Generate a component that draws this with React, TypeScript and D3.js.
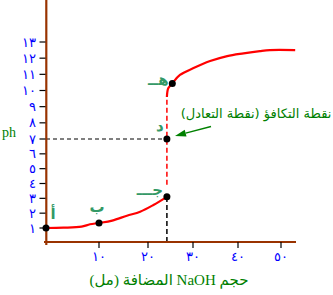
import React from "react";
import * as d3 from "d3";

const xTicks = [10, 20, 30, 40, 50];
const xTickLabels = ["١٠", "٢٠", "٣٠", "٤٠", "٥٠"];
const yTicks = [1, 2, 3, 4, 5, 6, 7, 8, 9, 10, 11, 12, 13];
const yTickLabels = ["١", "٢", "٣", "٤", "٥", "٦", "٧", "٨", "٩", "١٠", "١١", "١٢", "١٣"];

const lowerVolume = [0, 3.3, 6.7, 8.3, 10, 12.7, 15.7, 18.4, 21.2, 24.2];
const lowerPH = [1, 1.02, 1.09, 1.25, 1.34, 1.5, 1.83, 2.1, 2.55, 3.1];
const upperVolume = [24.2, 24.5, 25.4, 27.1, 30, 33.8, 37.6, 41.3, 45.1, 47.4, 53.3];
const upperPH = [9.6, 10.14, 10.44, 10.96, 11.37, 11.82, 12.13, 12.3, 12.44, 12.5, 12.5];

const pointNames = ["أ", "ب", "جـــ", "د", "هــ"];
const pointVolume = [0, 10, 24.2, 24.2, 25.4];
const pointPH = [1, 1.34, 3.1, 7, 10.44];

const equivalenceVolume = 24.2;
const equivalencePH = 7;

const xTitle = "حجم NaOH المضافة (مل)";
const yTitle = "ph";
const noteText = "نقطة التكافؤ (نقطة التعادل)";

// label offsets (style) for each point: dx, dy of text anchor
const labelOffsets = [
  [7, -9],
  [-2, -11],
  [-17, -2],
  [-7, -8],
  [-14, 2],
];

export default function App() {
  const x = d3
    .scaleLinear()
    .domain([0, 10, 20, 30, 40, 50])
    .range([46, 99, 148, 193, 238, 281]);
  const y = d3.scaleLinear().domain([1, 7, 13]).range([228, 139, 42]);
  const y0 = 242;

  const line = d3
    .line<[number, number]>()
    .x((d) => x(d[0]))
    .y((d) => y(d[1]))
    .curve(d3.curveCatmullRom.alpha(0.5));

  const lower = lowerVolume.map((v, i) => [v, lowerPH[i]] as [number, number]);
  const upper = upperVolume.map((v, i) => [v, upperPH[i]] as [number, number]);

  const ex = x(equivalenceVolume);
  const brown = "#993300";
  const seaGreen = "#339966";
  const green = "#008000";

  const arrowStart: [number, number] = [211, 126.5];
  const arrowEnd: [number, number] = [175, 136];
  const ang = Math.atan2(arrowEnd[1] - arrowStart[1], arrowEnd[0] - arrowStart[0]);
  const ah = 11;
  const aw = 3.5;
  const bx = arrowEnd[0] - ah * Math.cos(ang);
  const by = arrowEnd[1] - ah * Math.sin(ang);
  const head = [
    [arrowEnd[0], arrowEnd[1]],
    [bx + aw * Math.sin(ang), by - aw * Math.cos(ang)],
    [bx - aw * Math.sin(ang), by + aw * Math.cos(ang)],
  ]
    .map((p) => p.join(","))
    .join(" ");

  return (
    <svg
      width={333}
      height={295}
      style={{ position: "absolute", left: 0, top: 0, background: "#fff" }}
    >
      <rect x={0} y={0} width={333} height={295} fill="#fff" />
      {/* dashed guides */}
      <line
        x1={46}
        x2={ex}
        y1={y(equivalencePH)}
        y2={y(equivalencePH)}
        stroke="#000"
        strokeWidth={1}
        strokeDasharray="4,3"
      />
      <line
        x1={ex}
        x2={ex}
        y1={y0}
        y2={y(lowerPH[lowerPH.length - 1])}
        stroke="#000"
        strokeWidth={1.5}
        strokeDasharray="5,3"
      />
      <line
        x1={ex}
        x2={ex}
        y1={y(lowerPH[lowerPH.length - 1]) - 12}
        y2={y(upperPH[0])}
        stroke="#ff0000"
        strokeWidth={1.5}
        strokeDasharray="5,3"
      />
      {/* curves */}
      <path d={line(lower) || ""} fill="none" stroke="#ff0000" strokeWidth={2.2} />
      <path d={line(upper) || ""} fill="none" stroke="#ff0000" strokeWidth={2.2} />
      {/* axes */}
      <line x1={46.3} x2={46.3} y1={0} y2={245} stroke={brown} strokeWidth={2.2} />
      <line x1={44} x2={296} y1={y0} y2={y0} stroke={brown} strokeWidth={2.2} />
      {yTicks.map((t, i) => (
        <g key={"y" + t}>
          <line x1={39.5} x2={45.5} y1={y(t)} y2={y(t)} stroke="#000" strokeWidth={1.2} />
          <text
            x={36}
            y={y(t) + 4.5}
            textAnchor="end"
            fill="#0000ff"
            fontSize={13}
            fontFamily="DejaVu Sans"
          >
            {yTickLabels[i]}
          </text>
        </g>
      ))}
      {xTicks.map((t, i) => (
        <g key={"x" + t}>
          <line x1={x(t)} x2={x(t)} y1={y0} y2={y0 + 6} stroke="#000" strokeWidth={1.2} />
          <text
            x={x(t)}
            y={261}
            textAnchor="middle"
            fill="#0000ff"
            fontSize={13}
            fontFamily="DejaVu Sans"
          >
            {xTickLabels[i]}
          </text>
        </g>
      ))}
      {/* titles */}
      <text
        x={169}
        y={285}
        textAnchor="middle"
        direction="rtl"
        fill={green}
        fontSize={15}
        fontFamily="Liberation Serif, DejaVu Sans"
      >
        {xTitle}
      </text>
      <text x={2} y={137} fill={green} fontSize={14} fontFamily="Liberation Serif">
        {yTitle}
      </text>
      {/* annotation */}
      <text
        x={256}
        y={118}
        textAnchor="middle"
        direction="rtl"
        fill={green}
        fontSize={13}
        fontFamily="DejaVu Sans"
      >
        {noteText}
      </text>
      <line
        x1={arrowStart[0]}
        y1={arrowStart[1]}
        x2={bx}
        y2={by}
        stroke={green}
        strokeWidth={1.3}
      />
      <polygon points={head} fill={green} />
      {/* points */}
      {pointNames.map((n, i) => (
        <g key={"p" + i}>
          <circle cx={x(pointVolume[i])} cy={y(pointPH[i])} r={3.5} fill="#000" />
          <text
            x={x(pointVolume[i]) + labelOffsets[i][0]}
            y={y(pointPH[i]) + labelOffsets[i][1]}
            textAnchor="middle"
            fill={seaGreen}
            fontSize={15}
            fontWeight="bold"
            fontFamily="DejaVu Sans"
          >
            {n}
          </text>
        </g>
      ))}
    </svg>
  );
}
